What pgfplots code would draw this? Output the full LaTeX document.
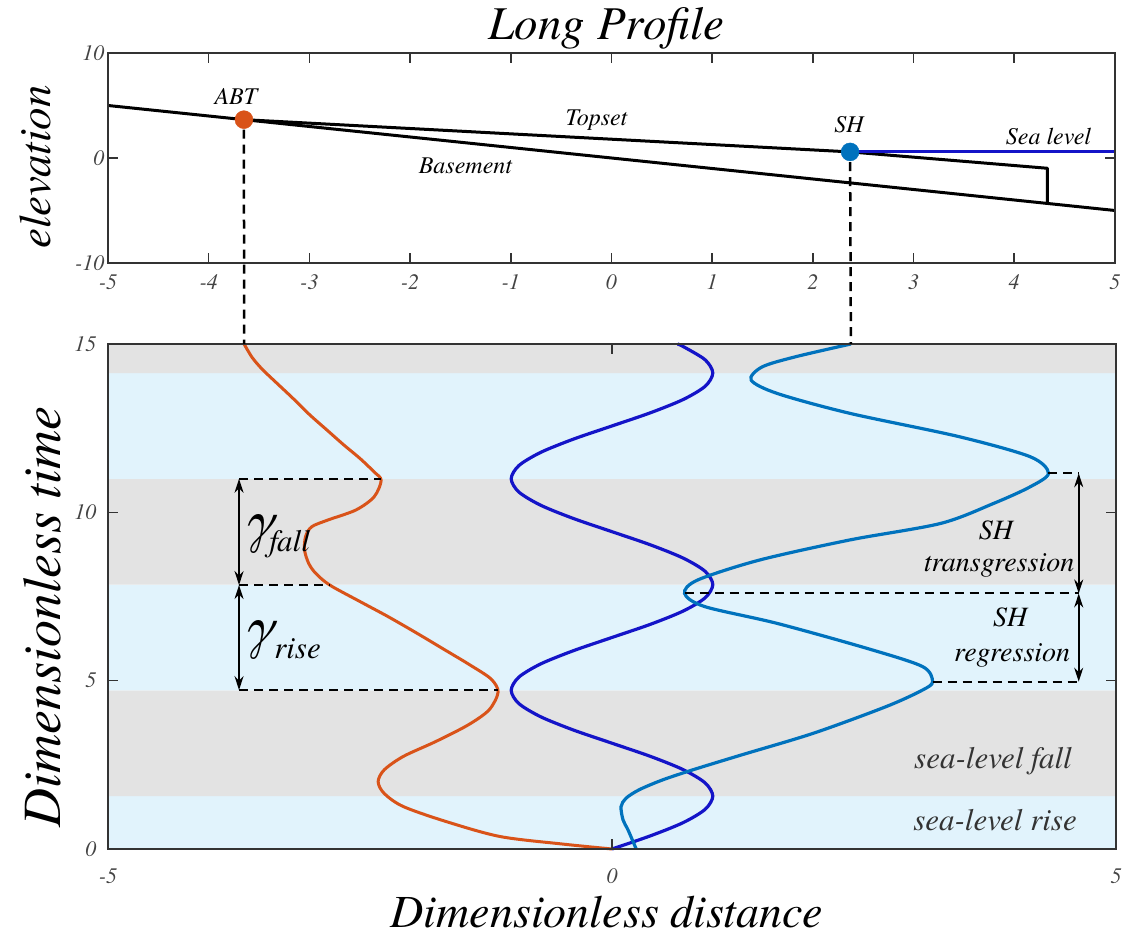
\documentclass[border=0pt]{standalone}
\usepackage{fontspec}
\IfFontExistsTF{texgyretermes-regular.otf}{%
  \setmainfont{texgyretermes}[Extension=.otf, UprightFont=*-regular, ItalicFont=*-italic, BoldFont=*-bold, BoldItalicFont=*-bolditalic]}{%
  \setmainfont{Liberation Serif}}
\usepackage{pgfplots}
\pgfplotsset{compat=1.18}
\usetikzlibrary{arrows.meta}

\definecolor{orng}{HTML}{D95319}
\definecolor{shblue}{HTML}{0072BD}
\definecolor{slblue}{HTML}{1414C8}
\definecolor{bandgrey}{HTML}{E3E3E3}
\definecolor{bandblue}{HTML}{E1F3FC}
\definecolor{axgrey}{HTML}{333333}
\definecolor{tickgrey}{HTML}{444444}

\pgfplotsset{
  myaxis/.style={
    scale only axis,
    axis on top,
    clip=false,
    axis line style={axgrey, line width=2pt},
    every tick/.style={axgrey, line width=1.6pt},
    major tick length=10pt,
    tick align=inside,
    tick label style={font=\fontsize{22}{22}\selectfont\itshape, text=tickgrey},
    /pgf/number format/assume math mode=true,
  }
}

\begin{document}
\begin{tikzpicture}

% ---------------- Top axis: Long Profile ----------------
\begin{axis}[myaxis,
  at={(108pt,673pt)}, anchor=south west,
  width=1007pt, height=210pt,
  xmin=-5, xmax=5, ymin=-10, ymax=10,
  xtick={-5,-4,...,5}, ytick={-10,0,10},
  xticklabel style={yshift=-8pt},
]
\addplot[black, line width=3pt] coordinates {(-5,5) (5,-5)};
\addplot[black, line width=3pt, line join=round] coordinates {(-3.65,3.65) (2.37,0.58) (4.33,-0.98) (4.33,-4.33)};
\addplot[slblue, line width=2.5pt] coordinates {(2.37,0.6) (5,0.6)};
\coordinate (abtT) at (axis cs:-3.65,2.7);
\coordinate (shT) at (axis cs:2.37,-0.4);
\addplot[only marks, mark=*, mark size=9pt, mark options={draw=orng, fill=orng}] coordinates {(-3.65,3.65)};
\addplot[only marks, mark=*, mark size=9pt, mark options={draw=shblue, fill=shblue}] coordinates {(2.37,0.58)};
\node[anchor=base, font=\fontsize{24}{24}\selectfont\itshape] at (axis cs:-3.73,5.05) {ABT};
\node[anchor=base, font=\fontsize{24}{24}\selectfont\itshape] at (axis cs:-0.15,3.14) {Topset};
\node[anchor=base, font=\fontsize{24}{24}\selectfont\itshape] at (axis cs:-1.45,-1.43) {Basement};
\node[anchor=base, font=\fontsize{24}{24}\selectfont\itshape] at (axis cs:2.36,2.38) {SH};
\node[anchor=base, font=\fontsize{24}{24}\selectfont\itshape] at (axis cs:4.34,1.33) {Sea level};
\node[anchor=base, font=\fontsize{47}{47}\selectfont\itshape] at (axis description cs:0.495,1) [yshift=13pt] {Long Profile};
\node[rotate=90, font=\fontsize{45}{45}\selectfont\itshape] at (axis description cs:-0.0715,0.457) {elevation};
\end{axis}

% ---------------- Bottom axis ----------------
\begin{axis}[myaxis,
  at={(108pt,87pt)}, anchor=south west,
  width=1008pt, height=505pt,
  xmin=-5, xmax=5, ymin=0, ymax=15,
  xtick={-5,0,5}, ytick={0,5,10,15},
  xticklabel style={yshift=-16pt},
  yticklabel style={xshift=-8pt},
]
% background bands
\addplot[fill=bandblue, draw=none] coordinates {(-5,0) (5,0) (5,1.571) (-5,1.571) (-5,0)};
\addplot[fill=bandgrey, draw=none] coordinates {(-5,1.571) (5,1.571) (5,4.712) (-5,4.712) (-5,1.571)};
\addplot[fill=bandblue, draw=none] coordinates {(-5,4.712) (5,4.712) (5,7.854) (-5,7.854) (-5,4.712)};
\addplot[fill=bandgrey, draw=none] coordinates {(-5,7.854) (5,7.854) (5,10.996) (-5,10.996) (-5,7.854)};
\addplot[fill=bandblue, draw=none] coordinates {(-5,10.996) (5,10.996) (5,14.137) (-5,14.137) (-5,10.996)};
\addplot[fill=bandgrey, draw=none] coordinates {(-5,14.137) (5,14.137) (5,15) (-5,15) (-5,14.137)};

% sea level (dark blue)
\addplot[slblue, line width=3.2pt, smooth] coordinates {
(0,0) (0.383,0.393) (0.707,0.785) (0.924,1.178) (1,1.571) (0.924,1.963) (0.707,2.356) (0.383,2.749)
(0,3.142) (-0.383,3.534) (-0.707,3.927) (-0.924,4.320) (-1,4.712) (-0.924,5.105) (-0.707,5.498) (-0.383,5.890)
(0,6.283) (0.383,6.676) (0.707,7.069) (0.924,7.461) (1,7.854) (0.924,8.247) (0.707,8.639) (0.383,9.032)
(0,9.425) (-0.383,9.817) (-0.707,10.210) (-0.924,10.603) (-1,10.996) (-0.924,11.388) (-0.707,11.781) (-0.383,12.174)
(0,12.566) (0.383,12.959) (0.707,13.352) (0.924,13.744) (1,14.137) (0.924,14.530) (0.707,14.923) (0.650,15)};

% ABT (orange)
\addplot[orng, line width=3pt, smooth] coordinates {
(0,0) (-0.5,0.15) (-1.11,0.37) (-1.64,0.81) (-2.07,1.26) (-2.26,1.65) (-2.32,2.0) (-2.26,2.35)
(-2.07,2.75) (-1.75,3.19) (-1.43,3.68) (-1.22,4.13) (-1.13,4.66) (-1.20,5.05) (-1.40,5.45) (-1.65,5.90)
(-1.93,6.40) (-2.22,6.90) (-2.50,7.35) (-2.80,7.84) (-2.94,8.19) (-3.01,8.49) (-3.05,8.88) (-3.04,9.28)
(-2.98,9.57) (-2.82,9.77) (-2.54,10.07) (-2.36,10.46) (-2.29,10.95) (-2.36,11.2) (-2.50,11.6) (-2.66,12.0)
(-2.83,12.45) (-3.00,12.9) (-3.17,13.4) (-3.33,13.85) (-3.47,14.25) (-3.57,14.6) (-3.65,15)};

% SH (light blue)
\addplot[shblue, line width=3.2pt, smooth] coordinates {
(0.24,0) (0.16,0.56) (0.11,0.86) (0.09,1.26) (0.14,1.51) (0.27,1.76) (0.50,2.05) (0.80,2.35) (1.28,2.79)
(2.0,3.44) (2.72,4.23) (3.08,4.72) (3.18,4.97) (3.08,5.42) (2.54,5.95) (1.64,6.70) (0.92,7.20)
(0.72,7.59) (0.85,7.99) (1.46,8.58) (2.36,9.18) (3.26,9.67) (3.79,10.27) (4.15,10.76) (4.33,11.16)
(4.15,11.65) (3.44,12.25) (2.36,12.94) (1.64,13.53) (1.38,13.93) (1.49,14.32) (1.82,14.62) (2.37,15)};

\coordinate (abtB) at (axis cs:-3.65,15);
\coordinate (shB) at (axis cs:2.37,15);

% dashed guides
\addplot[black, line width=2pt, dash pattern=on 9pt off 6pt] coordinates {(-3.70,10.996) (-2.29,10.996)};
\addplot[black, line width=2pt, dash pattern=on 9pt off 6pt] coordinates {(-3.70,7.84) (-2.80,7.84)};
\addplot[black, line width=2pt, dash pattern=on 9pt off 6pt] coordinates {(-3.70,4.72) (-1.13,4.72)};
\addplot[black, line width=2pt, dash pattern=on 9pt off 6pt] coordinates {(4.33,11.16) (4.63,11.16)};
\addplot[black, line width=2pt, dash pattern=on 9pt off 6pt] coordinates {(0.72,7.59) (4.63,7.59)};
\addplot[black, line width=2pt, dash pattern=on 9pt off 6pt] coordinates {(3.18,4.97) (4.63,4.97)};

% arrows
\draw[{Stealth[length=14pt,width=9pt]}-{Stealth[length=14pt,width=9pt]}, line width=1.8pt] (axis cs:-3.70,7.84) -- (axis cs:-3.70,10.996);
\draw[{Stealth[length=14pt,width=9pt]}-{Stealth[length=14pt,width=9pt]}, line width=1.8pt] (axis cs:-3.70,4.72) -- (axis cs:-3.70,7.84);
\draw[{Stealth[length=14pt,width=9pt]}-{Stealth[length=14pt,width=9pt]}, line width=1.8pt] (axis cs:4.63,7.59) -- (axis cs:4.63,11.16);
\draw[{Stealth[length=14pt,width=9pt]}-{Stealth[length=14pt,width=9pt]}, line width=1.8pt] (axis cs:4.63,4.97) -- (axis cs:4.63,7.59);

% gamma labels
\node[anchor=base west, inner sep=0pt, font=\itshape] at (axis cs:-3.67,9.18)
  {\fontsize{56}{56}\selectfont γ\kern-4pt\raisebox{-12pt}{\fontsize{31}{31}\selectfont fall}};
\node[anchor=base west, inner sep=0pt, font=\itshape] at (axis cs:-3.67,6.04)
  {\fontsize{56}{56}\selectfont γ\kern1pt\raisebox{-12.5pt}{\fontsize{31}{31}\selectfont rise}};

% text labels
\node[anchor=base, font=\fontsize{28}{28}\selectfont\itshape] at (axis cs:3.81,9.18) {SH};
\node[anchor=base, font=\fontsize{28}{28}\selectfont\itshape] at (axis cs:3.84,8.24) {transgression};
\node[anchor=base, font=\fontsize{28}{28}\selectfont\itshape] at (axis cs:3.95,6.60) {SH};
\node[anchor=base, font=\fontsize{28}{28}\selectfont\itshape] at (axis cs:3.97,5.56) {regression};
\node[anchor=base, font=\fontsize{31}{31}\selectfont\itshape, text=black!80] at (axis cs:3.78,2.40) {sea-level fall};
\node[anchor=base, font=\fontsize{31}{31}\selectfont\itshape, text=black!80] at (axis cs:3.80,0.54) {sea-level rise};

\node[rotate=90, font=\fontsize{54}{54}\selectfont\itshape] at (axis description cs:-0.0655,0.459) {Dimensionless time};
\node[anchor=base, font=\fontsize{46}{46}\selectfont\itshape] at (axis description cs:0.495,-0.1545) {Dimensionless distance};
\end{axis}

% connectors between the two panels
\draw[black, line width=2.5pt, dash pattern=on 9pt off 6pt] (abtT) -- (abtB);
\draw[black, line width=2.5pt, dash pattern=on 9pt off 6pt] (shT) -- (shB);

\pgfresetboundingbox
\path[use as bounding box] (0pt,0pt) rectangle (1127pt,936pt);
\end{tikzpicture}
\end{document}
